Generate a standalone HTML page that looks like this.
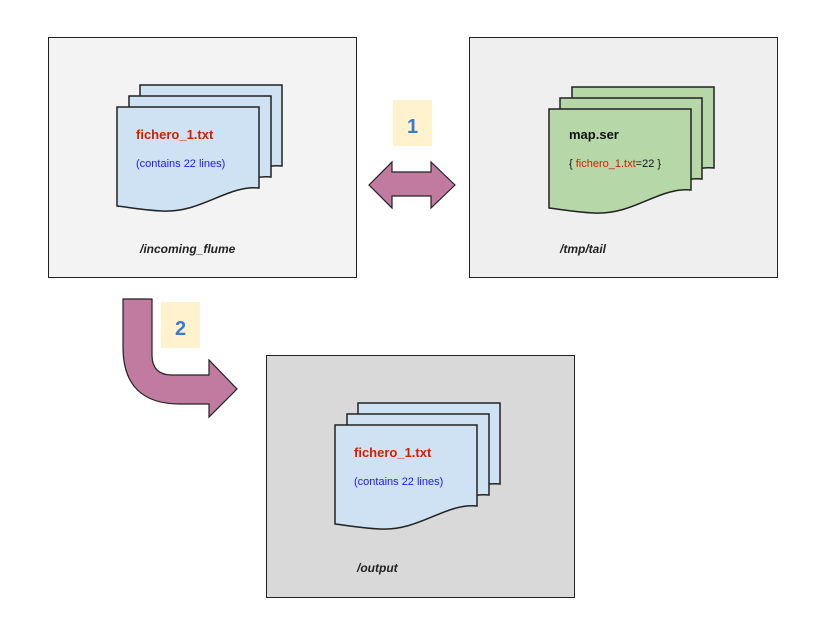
<!DOCTYPE html>
<html><head><style>body{margin:0;background:#fff}svg{display:block}</style></head><body>
<svg width="815" height="644" xmlns="http://www.w3.org/2000/svg" font-family="Liberation Sans, sans-serif">
<defs>
<path id="doc" d="M0,0 H142 V81 C110,78 85,106 45,104 C25,103 10,100 0,99 Z" stroke="#222" stroke-width="1.5"/>
</defs>
<rect x="48.5" y="37.5" width="308" height="240" fill="#f3f3f3" stroke="#222"/>
<rect x="469.5" y="37.5" width="308" height="240" fill="#efefef" stroke="#222"/>
<rect x="266.5" y="355.5" width="308" height="242" fill="#d9d9d9" stroke="#222"/>
<!-- box1 docs -->
<use href="#doc" x="140" y="85" fill="#cfe2f3"/>
<use href="#doc" x="129" y="96" fill="#cfe2f3"/>
<use href="#doc" x="117" y="107" fill="#cfe2f3"/>
<text x="136" y="139" font-size="13" font-weight="bold" fill="#cc2200">fichero_1.txt</text>
<text x="136" y="167" font-size="11" fill="#1a1aff">(contains 22 lines)</text>
<text x="140" y="253" font-size="12" font-weight="bold" font-style="italic" fill="#222">/incoming_flume</text>
<!-- box2 docs -->
<use href="#doc" x="572" y="87" fill="#b6d7a8"/>
<use href="#doc" x="560" y="98" fill="#b6d7a8"/>
<use href="#doc" x="549" y="109" fill="#b6d7a8"/>
<text x="569" y="139" font-size="13" font-weight="bold" fill="#111">map.ser</text>
<text x="569" y="167" font-size="11" fill="#111">{ <tspan fill="#cc2200">fichero_1.txt</tspan>=22 }</text>
<text x="560" y="253" font-size="12" font-weight="bold" font-style="italic" fill="#222">/tmp/tail</text>
<!-- box3 docs -->
<use href="#doc" x="358" y="403" fill="#cfe2f3"/>
<use href="#doc" x="347" y="414" fill="#cfe2f3"/>
<use href="#doc" x="335" y="425" fill="#cfe2f3"/>
<text x="354" y="457" font-size="13" font-weight="bold" fill="#cc2200">fichero_1.txt</text>
<text x="354" y="485" font-size="11" fill="#1a1aff">(contains 22 lines)</text>
<text x="357" y="572" font-size="12" font-weight="bold" font-style="italic" fill="#222">/output</text>
<!-- badges -->
<rect x="393" y="100" width="39" height="46" fill="#fff2cc"/>
<text x="412.5" y="133" font-size="20" font-weight="bold" fill="#3c78d8" text-anchor="middle">1</text>
<rect x="161" y="302" width="39" height="46" fill="#fff2cc"/>
<text x="180.5" y="335" font-size="20" font-weight="bold" fill="#3c78d8" text-anchor="middle">2</text>
<!-- arrows -->
<path d="M369,185 L392,162 L392,172 L431,172 L431,162 L455,185 L431,208 L431,196 L392,196 L392,208 Z" fill="#c27ba0" stroke="#222" stroke-width="1.2"/>
<path d="M123,299 L152,299 L152,355 Q152,375 172,375 L209,375 L209,360 L237,389 L209,417 L209,404 L180,404 Q123,404 123,347 Z" fill="#c27ba0" stroke="#222" stroke-width="1.2"/>
</svg>
</body></html>
